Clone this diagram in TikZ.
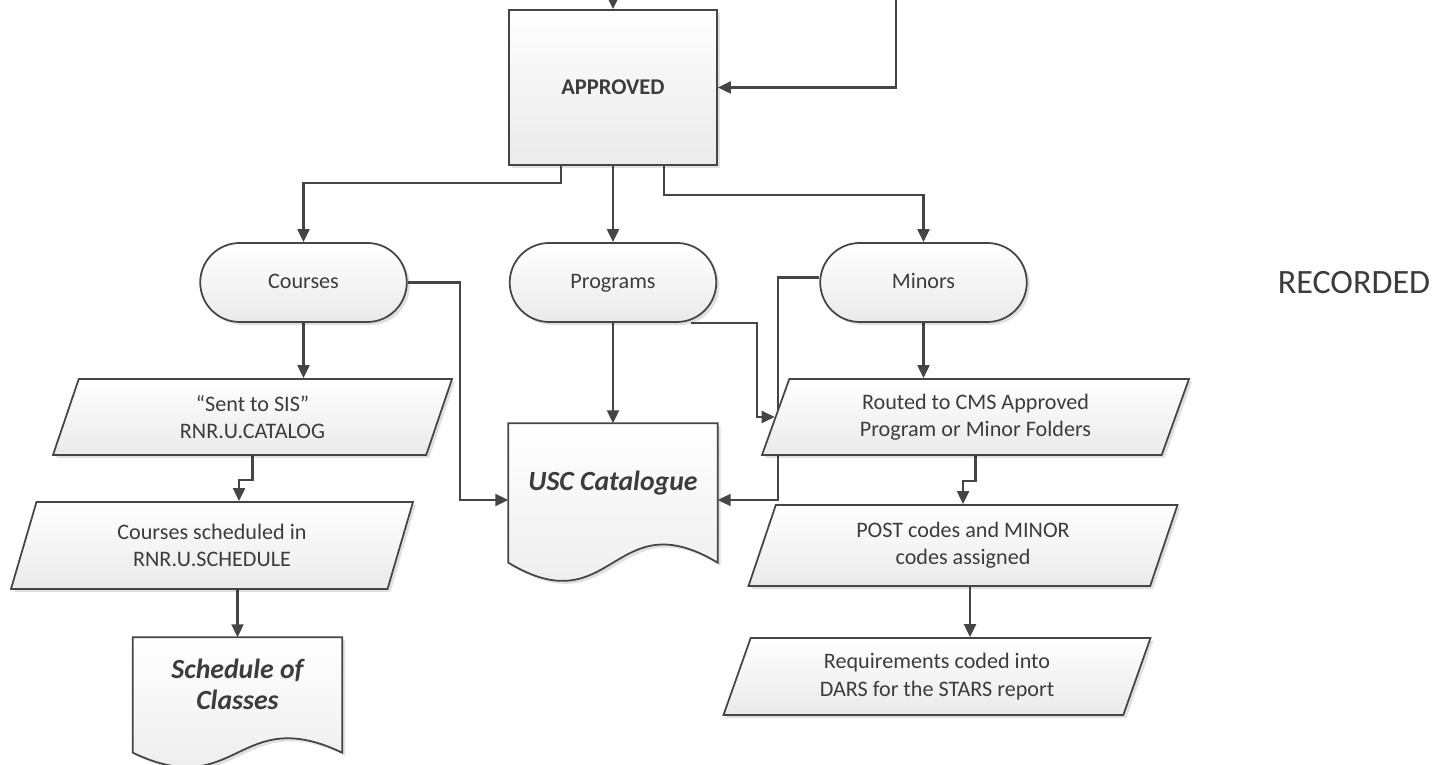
\documentclass[tikz,border=0pt]{standalone}
\usepackage{fontspec}
\setmainfont{Carlito}
\usetikzlibrary{arrows.meta,shapes.geometric,shapes.misc,calc,shadows}

\definecolor{lineGray}{HTML}{454545}
\definecolor{textGray}{HTML}{3C3C3C}
\definecolor{fillLow}{HTML}{EAEAEA}

\newcommand*{\xMax}{14.48}
\newcommand*{\yMax}{7.65}
\newcommand*{\bodyFont}{\fontsize{6.3}{7.8}\selectfont}
\newcommand*{\docFont}{\fontsize{7.9}{9}\selectfont\bfseries\itshape}

\pgfdeclarelayer{back}
\pgfsetlayers{back,main}

\tikzset{
  shapeline/.style={draw=lineGray, line width=0.5pt, top color=white, bottom color=fillLow,
    drop shadow={shadow xshift=0.03cm, shadow yshift=-0.03cm, fill=black, opacity=0.12}},
  boxnode/.style={rectangle, shapeline, minimum width=2.08cm, minimum height=1.55cm,
    font=\fontsize{6.4}{7}\selectfont\bfseries, text=textGray},
  pill/.style={rounded rectangle, shapeline, minimum width=2.30cm, minimum height=0.79cm,
    font=\bodyFont, text=textGray, text height=1.2ex, text depth=0.5ex},
  io/.style={trapezium, trapezium left angle=63, trapezium right angle=117,
    trapezium stretches body, shapeline, align=center, font=\bodyFont, text=textGray,
    inner sep=1pt},
  docnode/.style={rectangle, minimum width=2.08cm, inner sep=0pt, align=center,
    font=\docFont, text=textGray},
  conn/.style={draw=lineGray, line width=0.6pt, -{Triangle[length=1.3mm,width=1.2mm]}},
}

% document shape: wavy bottom below the node
\newcommand*{\docpath}[3]{%
  \draw [shapeline] (#1.north west) -- (#1.north east) -- ($(#1.south east)+(0,-#2)$)
    .. controls ($(#1.south)+(0,-#2+#3)$) and ($(#1.south)+(0,-#2-#3)$) ..
    ($(#1.south west)+(0,-#2)$) -- cycle;
}

\begin{document}
\begin{tikzpicture}
    \useasboundingbox (0,0) rectangle (\xMax,\yMax);

    \node [boxnode] (approved) at (6.13,6.775) {APPROVED};

    \foreach \name/\x/\txt in {courses/3.035/Courses,programs/6.13/Programs,minors/9.235/Minors} {
        \node [pill] (\name) at (\x,4.825) {\txt};
    }

    \node [io, minimum width=3.99cm, minimum height=0.76cm] (sent) at (2.525,3.48)
        {“Sent to SIS”\\RNR.U.CATALOG};
    \node [io, minimum width=4.02cm, minimum height=0.87cm] (sched) at (2.12,2.195)
        {Courses scheduled in\\RNR.U.SCHEDULE};
    \node [io, minimum width=4.27cm, minimum height=0.76cm] (routed) at (9.755,3.48)
        {Routed to CMS Approved\\Program or Minor Folders};
    \node [io, minimum width=4.29cm, minimum height=0.81cm] (post) at (9.63,2.195)
        {POST codes and MINOR\\codes assigned};
    \node [io, minimum width=4.27cm, minimum height=0.77cm] (reqs) at (9.37,0.885)
        {Requirements coded into\\DARS for the STARS report};

    \node [docnode, minimum height=1.18cm] (usc) at (6.13,2.82) {USC Catalogue};
    \node [docnode, minimum height=0.93cm] (soc) at (2.375,0.805) {Schedule of\\Classes};

    \node [font=\fontsize{9.7}{11}\selectfont, text=textGray] (recorded) at (13.54,4.825) {RECORDED};

    \coordinate (topin) at (6.13,\yMax);
    \coordinate (rightin) at (8.96,\yMax);

    \begin{pgfonlayer}{back}
        \docpath{usc}{0.2}{0.63}
        \docpath{soc}{0.21}{0.5}

        \draw [conn] (topin) -- (approved.north);
        \draw [conn] (rightin) |- (approved.east);

        \draw [conn] ([xshift=-0.52cm]approved.south) -- ++(0,-0.17) -| (courses.north);
        \draw [conn] (approved.south) -- (programs.north);
        \draw [conn] ([xshift=0.51cm]approved.south) -- ++(0,-0.29) -| (minors.north);

        \draw [conn] (courses.south) -- (courses.south |- sent.north);
        \draw [conn] (courses.east) -- ++(0.52,0) |- ([yshift=-0.17cm]usc.west);
        \draw [conn] (sent.south) -- ++(0,-0.24) -| ([xshift=0.27cm]sched.north);
        \draw [conn] (soc.north |- sched.south) -- (soc.north);

        \draw [conn] (programs.south) -- (usc.north);
        \draw [conn] ([xshift=0.78cm]programs.south) -- ++(0.66,0) |- (routed.west);

        \draw [conn] ([yshift=0.05cm]minors.west) -- ++(-0.41,0) |- ([yshift=-0.17cm]usc.east);
        \draw [conn] (minors.south) -- (minors.south |- routed.north);
        \draw [conn] (routed.south) -- ++(0,-0.25) -| (post.north);
        \draw [conn] ([xshift=0.07cm]post.south) -- ([xshift=0.07cm]post.south |- reqs.north);
    \end{pgfonlayer}

\end{tikzpicture}
\end{document}
